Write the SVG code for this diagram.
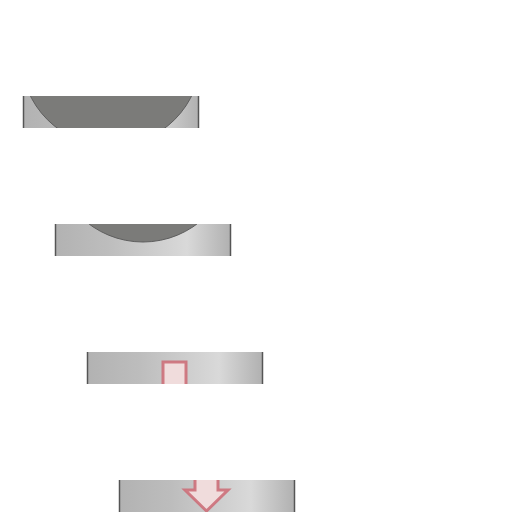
<svg xmlns="http://www.w3.org/2000/svg" width="512" height="512" viewBox="0 0 512 512">
<defs>
<linearGradient id="g" x1="0" y1="0" x2="1" y2="0">
<stop offset="0" stop-color="#b2b2b2"/>
<stop offset="0.3" stop-color="#bdbdbd"/>
<stop offset="0.75" stop-color="#d9d9d9"/>
<stop offset="1" stop-color="#b0b0b0"/>
</linearGradient>
<clipPath id="c1"><rect x="23" y="96" width="176" height="32"/></clipPath>
<clipPath id="c2"><rect x="55" y="224" width="176" height="32"/></clipPath>
<clipPath id="c3"><rect x="87" y="352" width="176" height="32"/></clipPath>
<clipPath id="c4"><rect x="119" y="480" width="176" height="32"/></clipPath>
</defs>
<style>
.band{fill:url(#g)}
.edge{stroke:#555;stroke-width:1.5}
.ball{fill:#7b7b79;stroke:#5e5e5e;stroke-width:1}
.arrow{fill:#f0dcdc;stroke:#cc6f79;stroke-width:3;stroke-opacity:0.9;stroke-linejoin:miter}
</style>
<g id="frame1">
<rect class="band" x="23" y="96" width="176" height="32"/>
<g clip-path="url(#c1)"><circle class="ball" cx="111" cy="56" r="90"/></g>
<line class="edge" x1="23.5" y1="96" x2="23.5" y2="128"/>
<line class="edge" x1="198.5" y1="96" x2="198.5" y2="128"/>
</g>
<g id="frame2">
<rect class="band" x="55" y="224" width="176" height="32"/>
<g clip-path="url(#c2)"><circle class="ball" cx="143" cy="152" r="90"/></g>
<line class="edge" x1="55.5" y1="224" x2="55.5" y2="256"/>
<line class="edge" x1="230.5" y1="224" x2="230.5" y2="256"/>
</g>
<g id="frame3">
<rect class="band" x="87" y="352" width="176" height="32"/>
<g clip-path="url(#c3)"><path class="arrow" d="M163 362 H186 V394 H196 L174.5 416 L153 394 H163 Z"/></g>
<line class="edge" x1="87.5" y1="352" x2="87.5" y2="384"/>
<line class="edge" x1="262.5" y1="352" x2="262.5" y2="384"/>
</g>
<g id="frame4">
<rect class="band" x="119" y="480" width="176" height="32"/>
<g clip-path="url(#c4)"><path class="arrow" d="M195 458 H218 V490 H228 L206.5 511 L185 490 H195 Z"/></g>
<line class="edge" x1="119.5" y1="480" x2="119.5" y2="512"/>
<line class="edge" x1="294.5" y1="480" x2="294.5" y2="512"/>
</g>
</svg>
